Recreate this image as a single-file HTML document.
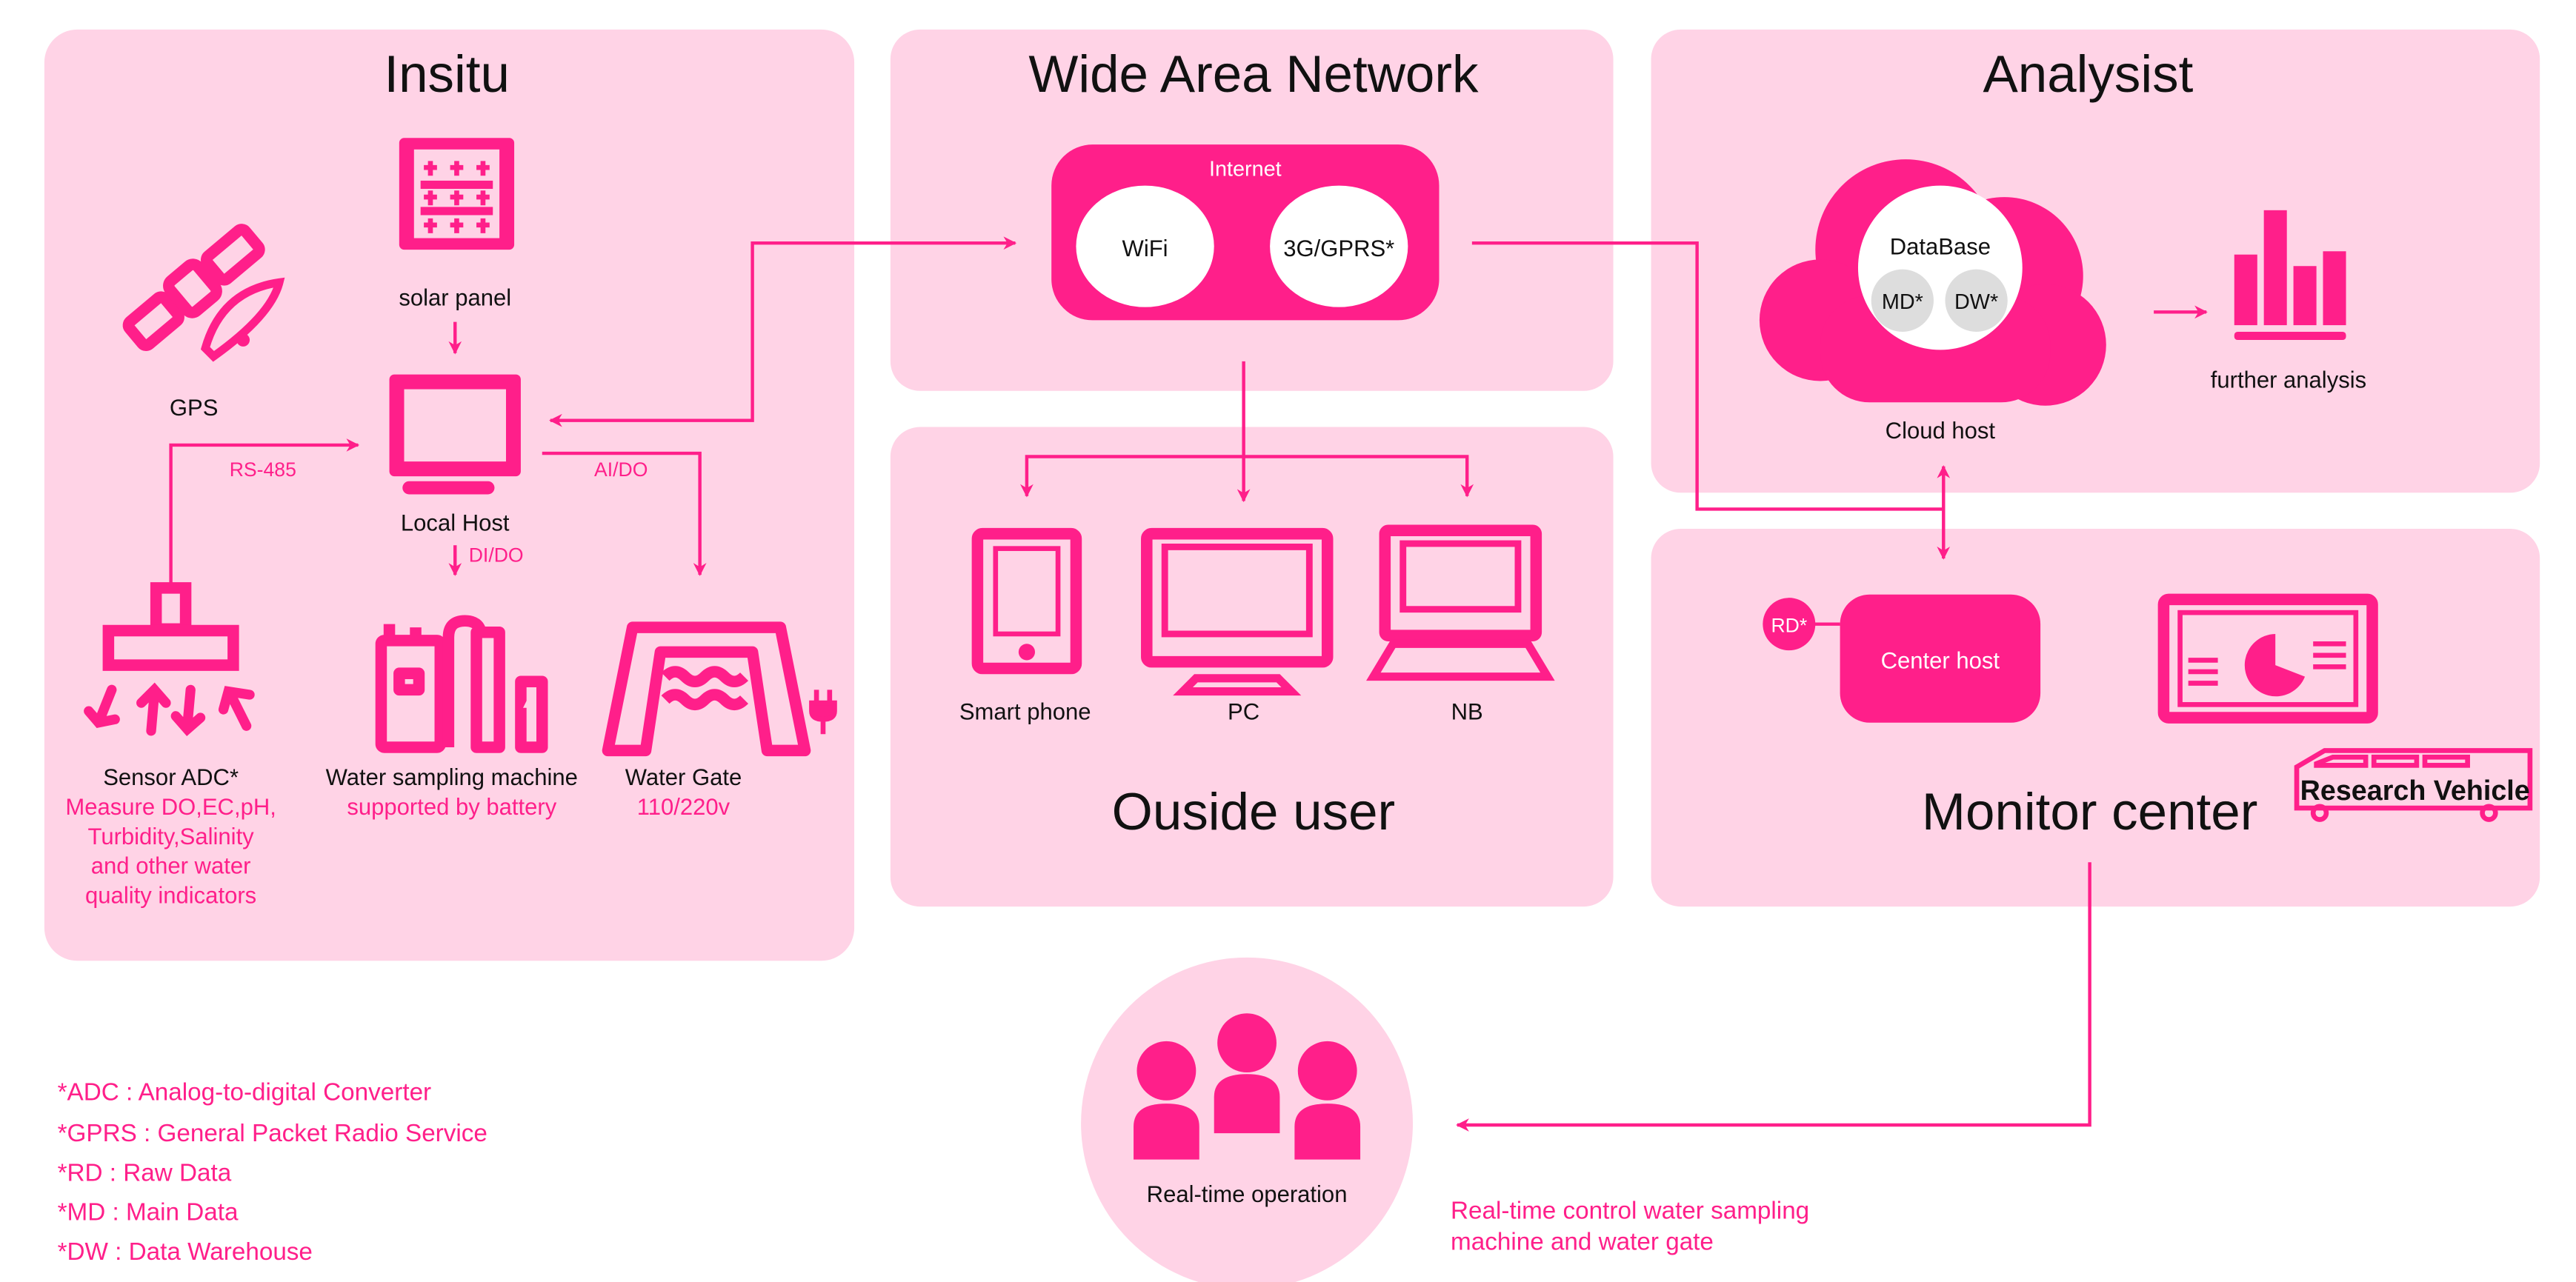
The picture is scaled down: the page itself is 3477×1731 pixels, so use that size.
<!DOCTYPE html>
<html><head><meta charset="utf-8"><style>
html,body{margin:0;padding:0;background:#fff}
svg{display:block}
text{font-family:"Liberation Sans",sans-serif}
</style></head><body>
<svg width="3477" height="1731" viewBox="0 0 1568 780.6" preserveAspectRatio="none" xmlns="http://www.w3.org/2000/svg">
<defs>
<marker id="ah" viewBox="0 0 10 10" refX="9" refY="5" markerWidth="8" markerHeight="8" markerUnits="userSpaceOnUse" orient="auto-start-reverse"><path d="M0,0 L10,5 L0,10 L3,5 z" fill="#ff1f8a"/></marker>
</defs>
<g fill="#ffd3e6">
<rect x="27" y="18" width="493" height="567" rx="20"/>
<rect x="542" y="18" width="440" height="220" rx="18"/>
<rect x="542" y="260" width="440" height="292" rx="18"/>
<rect x="1005" y="18" width="541" height="282" rx="18"/>
<rect x="1005" y="322" width="541" height="230" rx="18"/>
<circle cx="759" cy="684" r="101"/>
</g>
<g font-size="32" text-anchor="middle" fill="#111">
<text x="272" y="56">Insitu</text>
<text x="763" y="56">Wide Area Network</text>
<text x="1271" y="56">Analysist</text>
<text x="763" y="505">Ouside user</text>
<text x="1272" y="505">Monitor center</text>
</g>
<!-- Internet -->
<rect x="640" y="88" width="236" height="107" rx="25" fill="#ff1f8a"/>
<text x="758" y="107" font-size="13" fill="#fff" text-anchor="middle">Internet</text>
<ellipse cx="697" cy="150" rx="42" ry="37" fill="#fff"/>
<ellipse cx="815" cy="150" rx="42" ry="37" fill="#fff"/>
<text x="697" y="156" font-size="14" text-anchor="middle" fill="#111">WiFi</text>
<text x="815" y="156" font-size="14" text-anchor="middle" fill="#111">3G/GPRS*</text>
<!-- connectors -->
<g stroke="#ff1f8a" stroke-width="2" fill="none">
<path d="M618,148 H458 V256 H335" marker-start="url(#ah)" marker-end="url(#ah)"/>
<path d="M896,148 H1033 V310 H1183"/>
<path d="M1183,284 V340" marker-start="url(#ah)" marker-end="url(#ah)"/>
<path d="M757,220 V305" marker-end="url(#ah)"/>
<path d="M625,302 V278 H893 V302" marker-start="url(#ah)" marker-end="url(#ah)"/>
<path d="M277,196 V215" marker-end="url(#ah)"/>
<path d="M277,332 V350" marker-end="url(#ah)"/>
<path d="M104,356 V271 H218" marker-end="url(#ah)"/>
<path d="M330,276 H426 V350" marker-end="url(#ah)"/>
<path d="M1311,190 H1343" marker-end="url(#ah)"/>
<path d="M1272,525 V685 H887" marker-end="url(#ah)"/>
</g>
<g font-size="12" fill="#ff1f8a" text-anchor="middle">
<text x="160" y="290">RS-485</text>
<text x="378" y="290">AI/DO</text>
<text x="302" y="342">DI/DO</text>
</g>
<!-- solar panel -->
<rect x="243" y="84" width="70" height="68" rx="3" fill="#ff1f8a"/>
<rect x="252" y="91" width="52" height="54" fill="#ffd3e6"/>
<g fill="#ff1f8a"><rect x="256" y="110" width="44" height="5"/><rect x="256" y="126" width="44" height="5"/></g>
<g stroke="#ff1f8a" stroke-width="3"><path d="M262,98v9M258,102h8M278,98v9M274,102h8M294,98v9M290,102h8M262,116v9M258,120h8M278,116v9M274,120h8M294,116v9M290,120h8M262,133v9M258,137h8M278,133v9M274,137h8M294,133v9M290,137h8"/></g>
<text x="277" y="186" font-size="14" text-anchor="middle" fill="#111">solar panel</text>
<!-- local host -->
<rect x="237" y="228" width="80" height="62" rx="3" fill="#ff1f8a"/>
<rect x="246" y="237" width="62" height="44" fill="#ffd3e6"/>
<rect x="245" y="293" width="56" height="8" rx="4" fill="#ff1f8a"/>
<text x="277" y="323" font-size="14" text-anchor="middle" fill="#111">Local Host</text>
<!-- GPS -->
<g transform="translate(118,175) rotate(-40)" fill="none" stroke="#ff1f8a" stroke-width="7">
<rect x="-46" y="-9" width="28" height="18" rx="3"/><rect x="-12" y="-12" width="22" height="24" rx="4"/><rect x="16" y="-9" width="30" height="18" rx="3"/>
</g>
<path d="M125,212 q10,-35 45,-40 q-5,20 -40,45 z" fill="none" stroke="#ff1f8a" stroke-width="5"/>
<circle cx="148" cy="207" r="4" fill="#ff1f8a"/>
<text x="118" y="253" font-size="14" text-anchor="middle" fill="#111">GPS</text>
<!-- sensor -->
<rect x="95" y="358" width="18" height="25" fill="none" stroke="#ff1f8a" stroke-width="7"/>
<rect x="66" y="384" width="76" height="21" fill="none" stroke="#ff1f8a" stroke-width="7"/>
<g stroke="#ff1f8a" stroke-width="6" fill="none" stroke-linecap="round">
<path d="M68,420 L60,440 M54,433 L60,440 L70,438"/>
<path d="M92,445 L94,422 M86,428 L94,420 L101,428"/>
<path d="M116,420 L114,442 M107,436 L114,444 L122,437"/>
<path d="M150,442 L140,422 M136,432 L139,421 L152,423"/>
</g>
<!-- water sampling -->
<g fill="none" stroke="#ff1f8a" stroke-width="7" stroke-linejoin="round">
<rect x="232" y="390" width="36" height="65" rx="2"/><rect x="243" y="410" width="12" height="10"/>
<path d="M237,390 V380 M253,390 V382"/>
<path d="M273,455 V388 q0,-10 10,-10 q10,0 10,10"/>
<rect x="290" y="385" width="14" height="70"/>
<rect x="317" y="415" width="13" height="40"/>
</g>
<path d="M325,420 l-5,10 h5 l-3,10" stroke="#ffd3e6" stroke-width="2" fill="none"/>
<!-- water gate -->
<path d="M385,382 H475 L490,457 H467 L458,397 H402 L393,457 H370 Z" fill="none" stroke="#ff1f8a" stroke-width="7" stroke-linejoin="round"/>
<path d="M405,412 q6,-6 12,0 q6,6 12,0 q6,-6 12,0 q6,6 12,0 M405,426 q6,-6 12,0 q6,6 12,0 q6,-6 12,0 q6,6 12,0" stroke="#ff1f8a" stroke-width="7" fill="none"/>
<path d="M497,420 v8 M505,420 v8 M494,428 h14 v5 q0,5 -7,5 q-7,0 -7,-5z M501,438 v9" stroke="#ff1f8a" stroke-width="3" fill="#ff1f8a"/>
<!-- insitu labels -->
<g font-size="14" text-anchor="middle">
<text x="104" y="478" fill="#111">Sensor ADC*</text>
<text x="104" y="496" fill="#ff1f8a">Measure DO,EC,pH,</text>
<text x="104" y="514" fill="#ff1f8a">Turbidity,Salinity</text>
<text x="104" y="532" fill="#ff1f8a">and other water</text>
<text x="104" y="550" fill="#ff1f8a">quality indicators</text>
<text x="275" y="478" fill="#111">Water sampling machine</text>
<text x="275" y="496" fill="#ff1f8a">supported by battery</text>
<text x="416" y="478" fill="#111">Water Gate</text>
<text x="416" y="496" fill="#ff1f8a">110/220v</text>
</g>
<!-- devices -->
<g fill="none" stroke="#ff1f8a">
<rect x="595" y="325" width="60" height="82" rx="3" stroke-width="7"/>
<rect x="606" y="334" width="38" height="52" stroke-width="3"/>
<rect x="698" y="325" width="110" height="78" rx="3" stroke-width="7"/>
<rect x="709" y="333" width="88" height="53" stroke-width="4"/>
<path d="M728,413 h50 l8,8 h-66z" stroke-width="5"/>
<rect x="843" y="323" width="92" height="64" rx="2" stroke-width="7"/>
<rect x="854" y="331" width="70" height="40" stroke-width="4"/>
<path d="M848,392 h82 l12,20 h-106z" stroke-width="5"/>
</g>
<circle cx="625" cy="397" r="5" fill="#ff1f8a"/>
<g font-size="14" text-anchor="middle" fill="#111">
<text x="624" y="438">Smart phone</text>
<text x="757" y="438">PC</text>
<text x="893" y="438">NB</text>
</g>
<!-- cloud -->
<g fill="#ff1f8a">
<circle cx="1160" cy="152" r="55"/><circle cx="1220" cy="168" r="48"/><circle cx="1108" cy="195" r="37"/><circle cx="1245" cy="210" r="37"/>
<rect x="1108" y="180" width="140" height="65" rx="30"/>
</g>
<circle cx="1181" cy="163" r="50" fill="#fff"/>
<circle cx="1158" cy="183" r="19" fill="#ddd"/><circle cx="1203" cy="183" r="19" fill="#ddd"/>
<text x="1181" y="155" font-size="14" text-anchor="middle" fill="#111">DataBase</text>
<text x="1158" y="188" font-size="13" text-anchor="middle" fill="#111">MD*</text>
<text x="1203" y="188" font-size="13" text-anchor="middle" fill="#111">DW*</text>
<text x="1181" y="267" font-size="14" text-anchor="middle" fill="#111">Cloud host</text>
<g fill="#ff1f8a">
<rect x="1360" y="155" width="14" height="43"/><rect x="1378" y="128" width="14" height="70"/><rect x="1396" y="162" width="14" height="36"/><rect x="1414" y="153" width="14" height="45"/>
<rect x="1360" y="202" width="68" height="5" rx="2"/>
</g>
<text x="1393" y="236" font-size="14" text-anchor="middle" fill="#111">further analysis</text>
<!-- monitor center -->
<rect x="1120" y="362" width="122" height="78" rx="18" fill="#ff1f8a"/>
<text x="1181" y="407" font-size="14" text-anchor="middle" fill="#fff">Center host</text>
<path d="M1100,380 H1120" stroke="#ff1f8a" stroke-width="2"/>
<circle cx="1089" cy="380" r="16" fill="#ff1f8a"/>
<text x="1089" y="385" font-size="12" text-anchor="middle" fill="#fff">RD*</text>
<rect x="1317" y="365" width="127" height="72" rx="3" fill="none" stroke="#ff1f8a" stroke-width="7"/>
<rect x="1327" y="373" width="107" height="56" fill="none" stroke="#ff1f8a" stroke-width="3"/>
<path d="M1385,386 A19,19 0 1 0 1403,412 L1385,405 Z" fill="#ff1f8a"/>
<g stroke="#ff1f8a" stroke-width="3"><path d="M1332,402h18M1332,409h18M1332,416h18M1408,392h20M1408,399h20M1408,406h20"/></g>
<path d="M1398,467 l17,-10 h125 v35 h-142 z" fill="none" stroke="#ff1f8a" stroke-width="3"/>
<g fill="none" stroke="#ff1f8a" stroke-width="3"><path d="M1410,465 l10,-4 h20 v5 h-30z"/><rect x="1445" y="461" width="26" height="5"/><rect x="1476" y="461" width="26" height="5"/></g>
<circle cx="1412" cy="495" r="4" fill="none" stroke="#ff1f8a" stroke-width="3"/><circle cx="1515" cy="495" r="4" fill="none" stroke="#ff1f8a" stroke-width="3"/>
<text x="1470" y="487" font-size="17" font-weight="bold" text-anchor="middle" fill="#111">Research Vehicle</text>
<!-- people -->
<g fill="#ff1f8a">
<circle cx="759" cy="635" r="18"/><path d="M739,690 V668 q0,-14 20,-14 q20,0 20,14 V690 z"/>
<circle cx="710" cy="652" r="18"/><path d="M690,706 V686 q0,-14 20,-14 q20,0 20,14 V706 z"/>
<circle cx="808" cy="652" r="18"/><path d="M788,706 V686 q0,-14 20,-14 q20,0 20,14 V706 z"/>
</g>
<text x="759" y="732" font-size="14" text-anchor="middle" fill="#111">Real-time operation</text>
<!-- footnotes -->
<g font-size="15" fill="#ff1f8a">
<text x="35" y="670">*ADC : Analog-to-digital Converter</text>
<text x="35" y="695">*GPRS : General Packet Radio Service</text>
<text x="35" y="719">*RD : Raw Data</text>
<text x="35" y="743">*MD : Main Data</text>
<text x="35" y="767">*DW : Data Warehouse</text>
<text x="883" y="742">Real-time control water sampling</text>
<text x="883" y="761">machine and water gate</text>
</g>
</svg>
</body></html>
